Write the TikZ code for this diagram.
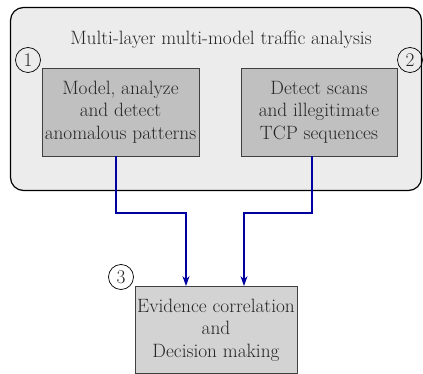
\documentclass[tikz,border=0pt]{standalone}
\usepackage{fontspec}
\usetikzlibrary{arrows.meta,calc}
\definecolor{outerfill}{RGB}{236,236,236}
\definecolor{boxfill}{RGB}{192,192,192}
\definecolor{boxfillb}{RGB}{211,211,211}
\definecolor{arrblue}{RGB}{0,0,160}
\begin{document}
\begin{tikzpicture}[x=1pt,y=-1pt,
  every node/.style={font=\fontsize{19.3}{22.5}\selectfont, text=black!85},
  procbox/.style={draw=black!75, line width=0.8pt, minimum width=157pt, minimum height=88pt, align=center, inner sep=1pt},
  numcirc/.style={draw=black, circle, line width=0.7pt, minimum size=25pt, inner sep=0pt},
  arr/.style={draw=arrblue, line width=1.3pt, -{Stealth[length=10pt,width=7pt]}}]
\useasboundingbox (0,0) rectangle (423,374);
\draw[line width=1.2pt, fill=outerfill, rounded corners=13pt] (10.5,7.5) rectangle (421.5,190.5);
\node (title) at (221,40) {Multi-layer multi-model traffic analysis};
\node[procbox, fill=boxfill] (b1) at (120.5,112) {Model, analyze\\and detect\\anomalous patterns};
\node[procbox, fill=boxfill, minimum width=156pt] (b2) at (319,112) {Detect scans\\and illegitimate\\TCP sequences};
\node[procbox, fill=boxfillb, minimum width=162pt, minimum height=87pt] (b3) at (216,330) {Evidence correlation\\and\\Decision making};
\node[numcirc] (c1) at (28,60) {1};
\node[numcirc] (c2) at (410,60) {2};
\node[numcirc] (c3) at (121,277) {3};
\coordinate (j1) at (186,213);
\coordinate (j2) at (244,213);
\draw[arr] ([xshift=-4.5pt]b1.south) |- (j1) -- (j1 |- b3.north);
\draw[arr] ([xshift=-7pt]b2.south) |- (j2) -- (j2 |- b3.north);
\end{tikzpicture}
\end{document}
